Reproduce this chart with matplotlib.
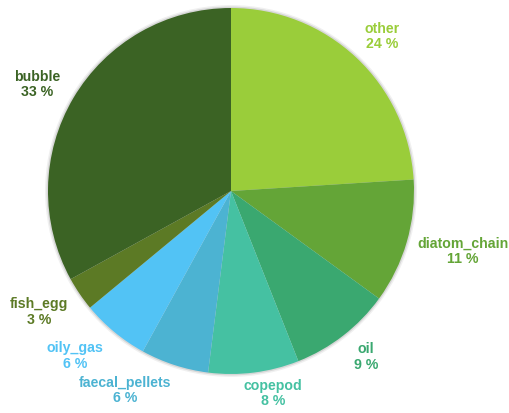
import numpy as np
import matplotlib.pyplot as plt
from matplotlib.patches import Circle

categories = ['other', 'diatom_chain', 'oil', 'copepod', 'faecal_pellets',
              'oily_gas', 'fish_egg', 'bubble']
percent = [24, 11, 9, 8, 6, 6, 3, 33]
colors = ['#9acd3a', '#64a537', '#3aa870', '#45c1a2', '#4cb3d2',
          '#52c3f5', '#5c7a25', '#3b6324']

# label placement: distance from centre (in radii) and angular nudge (deg, clockwise)
label_dist = [1.18, 1.31, 1.17, 1.13, 1.235, 1.24, 1.24, 1.21]
label_shift = [1.2, -1.6, -1.3, -4.5, 10.0, 3.8, 2.0, -1.9]

fig = plt.figure(figsize=(5.1, 4.13), dpi=100)
ax = fig.add_axes([0, 0, 1, 1])

# soft shadow round the pie
for rr, a in [(1.016, 0.06), (1.008, 0.10)]:
    ax.add_patch(Circle((0, 0), rr, color='#000000', alpha=a, lw=0, zorder=0))

wedges, _ = ax.pie(percent, colors=colors, startangle=90, counterclock=False,
                   wedgeprops=dict(linewidth=0, zorder=1))

cum = np.cumsum([0] + percent[:-1])
for i, (c, p) in enumerate(zip(categories, percent)):
    mid = (cum[i] + p / 2) / sum(percent) * 360 + label_shift[i]
    th = np.deg2rad(mid)
    x = label_dist[i] * np.sin(th)
    y = label_dist[i] * np.cos(th)
    ax.text(x, y, f'{c}\n{p} %', color=colors[i], ha='center', va='center',
            fontsize=10.2, fontweight='bold', family='Liberation Sans',
            linespacing=1.12)

r = 183
ax.set_xlim(-231 / r, (510 - 231) / r)
ax.set_ylim(-(413 - 191) / r, 191 / r)
ax.set_aspect('equal')
ax.axis('off')

fig.savefig('out.png', dpi=100)
